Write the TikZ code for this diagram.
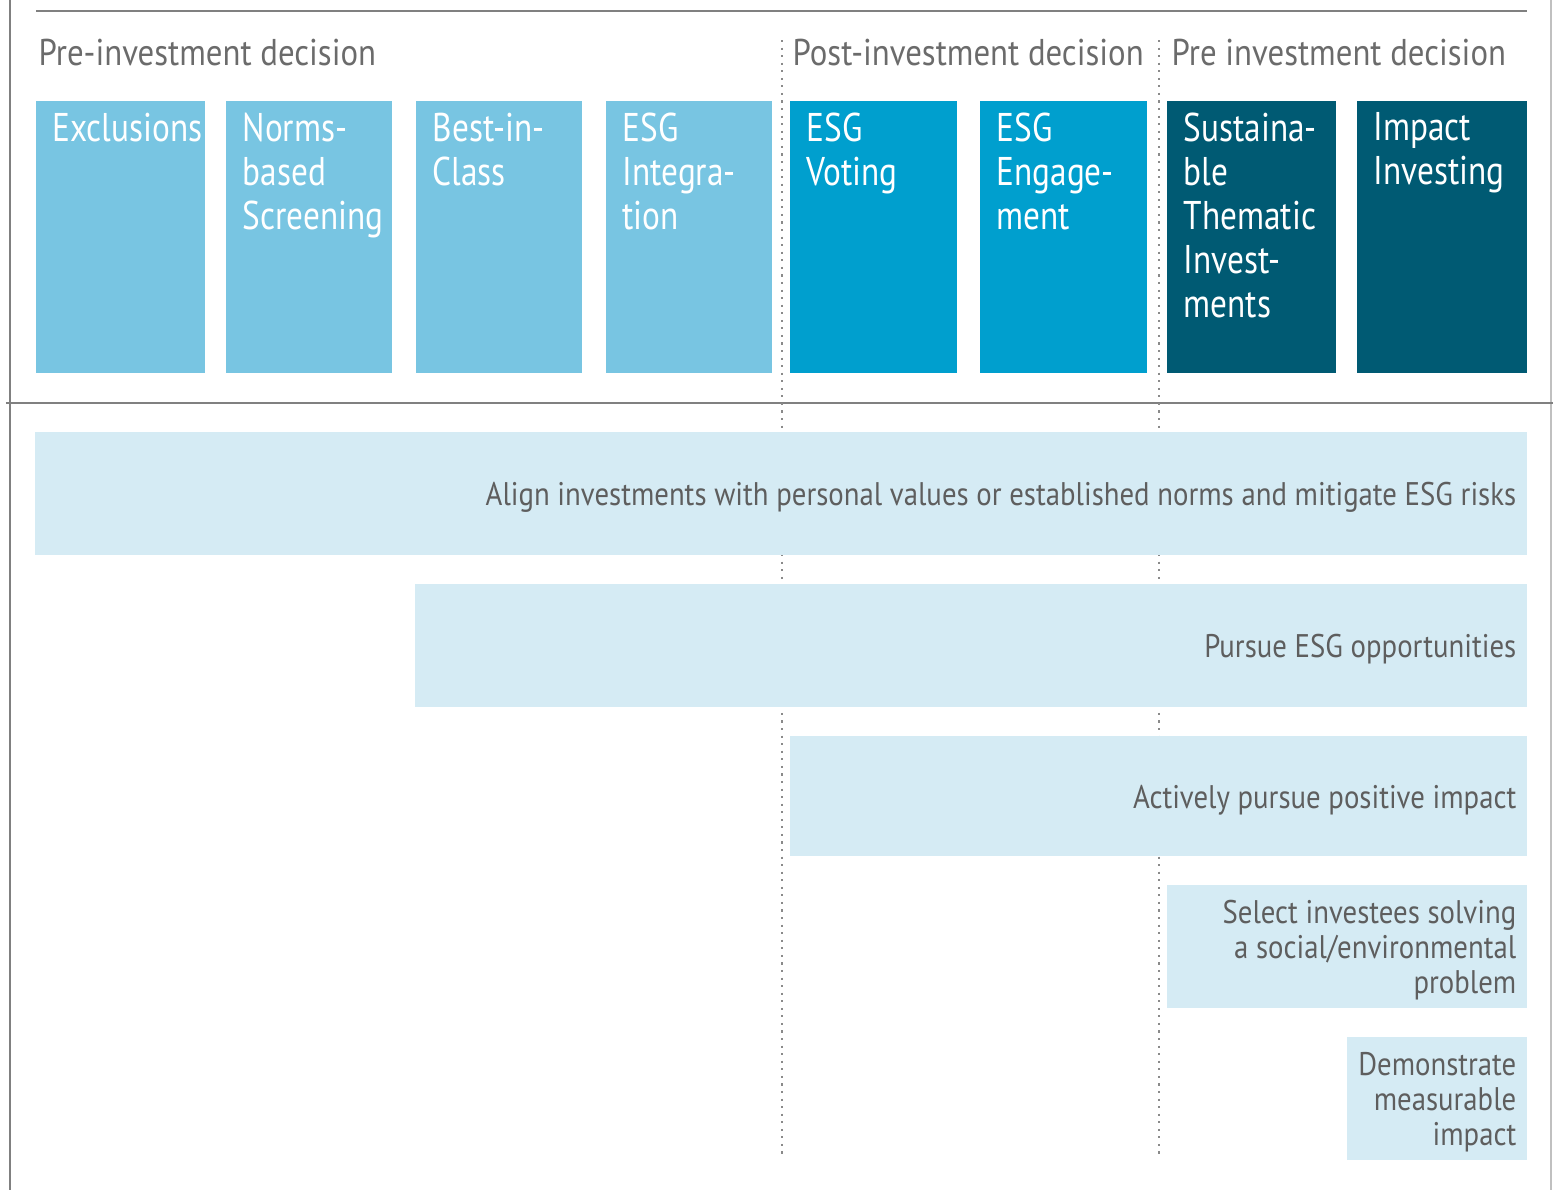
\documentclass[tikz,border=0pt]{standalone}
\usepackage{fontspec}
\setmainfont[FakeStretch=0.88]{PT Sans}
\newfontfamily\catfont[FakeStretch=0.83]{PT Sans}

\definecolor{catlight}{HTML}{78C5E2}
\definecolor{catmid}{HTML}{009FCE}
\definecolor{catdark}{HTML}{005A73}
\definecolor{goalfill}{HTML}{D5EBF4}
\definecolor{goalgray}{HTML}{5E5E5E}
\definecolor{headgray}{HTML}{6B6B6B}
\definecolor{framegray}{HTML}{808080}
\definecolor{dotgray}{HTML}{8A8A8A}

\begin{document}
\begin{tikzpicture}[
    x=0.01cm, y=-0.01cm,
    catbox/.style={anchor=north west, minimum height=2.72cm, inner sep=0pt, outer sep=0pt},
    cattext/.style={anchor=north west, text=white, align=left, inner sep=0pt,
        font=\catfont\fontsize{11.4}{12.5}\selectfont},
    phase/.style={anchor=base west, text=headgray, inner sep=0pt,
        font=\fontsize{10.6}{12}\selectfont},
    goalbar/.style={anchor=north east, fill=goalfill, minimum height=1.23cm, inner sep=0pt, outer sep=0pt},
    goaltext/.style={anchor=east, text=goalgray, align=right, inner sep=0pt,
        font=\fontsize{9.3}{10}\selectfont},
    divider/.style={draw=dotgray, line width=0.6pt, dash pattern=on 0.6pt off 1.55pt}
    ]
  \useasboundingbox (0,0) rectangle (1553,1190);

  % frame
  \coordinate (frameLT) at (10,0);
  \coordinate (frameLB) at (10,1190);
  \coordinate (frameRT) at (1551,0);
  \coordinate (frameRB) at (1551,1190);
  \coordinate (topL) at (36,11);
  \coordinate (topR) at (1527,11);
  \coordinate (midL) at (6,403);
  \coordinate (midR) at (1553,403);
  \draw[framegray!50, line width=0.3pt] (frameRT) -- (frameRB);
  \draw[framegray, line width=0.85pt] (frameLT) -- (frameLB);
  \draw[framegray, line width=0.6pt] (topL) -- (topR);
  \draw[framegray, line width=0.6pt] (midL) -- (midR);

  % phase dividers
  \coordinate (postT) at (782,40);
  \coordinate (postB) at (782,1158);
  \coordinate (preT) at (1159,40);
  \coordinate (preB) at (1159,1158);
  \draw[divider] (postT) -- (postB);
  \draw[divider] (preT) -- (preB);

  % phase headings
  \node[phase] (phPre) at (38,65) {Pre-investment decision};
  \node[phase] (phPost) at (792,65) {Post-investment decision};
  \node[phase] (phPre2) at (1171,65) {Pre investment decision};

  % strategies
  \node[catbox, fill=catlight, minimum width=1.69cm] (excl) at (36,101) {};
  \node[catbox, fill=catlight, minimum width=1.66cm] (norms) at (226,101) {};
  \node[catbox, fill=catlight, minimum width=1.66cm] (best) at (416,101) {};
  \node[catbox, fill=catlight, minimum width=1.66cm] (integ) at (606,101) {};
  \node[catbox, fill=catmid, minimum width=1.67cm] (voting) at (790,101) {};
  \node[catbox, fill=catmid, minimum width=1.67cm] (engage) at (980,101) {};
  \node[catbox, fill=catdark, minimum width=1.69cm] (thematic) at (1167,101) {};
  \node[catbox, fill=catdark, minimum width=1.70cm] (impact) at (1357,101) {};

  \node[cattext] (exclT) at ([shift={(0.16cm,-0.11cm)}]excl.north west) {Exclusions};
  \node[cattext] (normsT) at ([shift={(0.16cm,-0.11cm)}]norms.north west) {Norms-\\based\\Screening};
  \node[cattext] (bestT) at ([shift={(0.16cm,-0.11cm)}]best.north west) {Best-in-\\Class};
  \node[cattext] (integT) at ([shift={(0.16cm,-0.11cm)}]integ.north west) {ESG\\Integra-\\tion};
  \node[cattext] (votingT) at ([shift={(0.16cm,-0.11cm)}]voting.north west) {ESG\\Voting};
  \node[cattext] (engageT) at ([shift={(0.16cm,-0.11cm)}]engage.north west) {ESG\\Engage-\\ment};
  \node[cattext] (thematicT) at ([shift={(0.16cm,-0.11cm)}]thematic.north west) {Sustaina-\\ble\\Thematic\\Invest-\\ments};
  \node[cattext] (impactT) at ([shift={(0.16cm,-0.11cm)}]impact.north west) {Impact\\Investing};

  % objectives
  \node[goalbar, minimum width=14.91cm] (align) at (1527,432) {};
  \node[goalbar, minimum width=11.11cm] (pursue) at (1527,584) {};
  \node[goalbar, minimum width=7.37cm, minimum height=1.20cm] (active) at (1527,736) {};
  \node[goalbar, minimum width=3.60cm] (select) at (1527,885) {};
  \node[goalbar, minimum width=1.80cm] (demo) at (1527,1037) {};

  \node[goaltext] (alignT) at ([shift={(-0.10cm,-0.04cm)}]align.east) {Align investments with personal values or established norms and mitigate ESG risks};
  \node[goaltext] (pursueT) at ([shift={(-0.10cm,-0.04cm)}]pursue.east) {Pursue ESG opportunities};
  \node[goaltext] (activeT) at ([shift={(-0.10cm,-0.04cm)}]active.east) {Actively pursue positive impact};
  \node[goaltext] (selectT) at ([shift={(-0.10cm,-0.035cm)}]select.east) {Select investees solving\\a social/environmental\\problem};
  \node[goaltext] (demoT) at ([shift={(-0.10cm,-0.035cm)}]demo.east) {Demonstrate\\measurable\\impact};
\end{tikzpicture}
\end{document}
